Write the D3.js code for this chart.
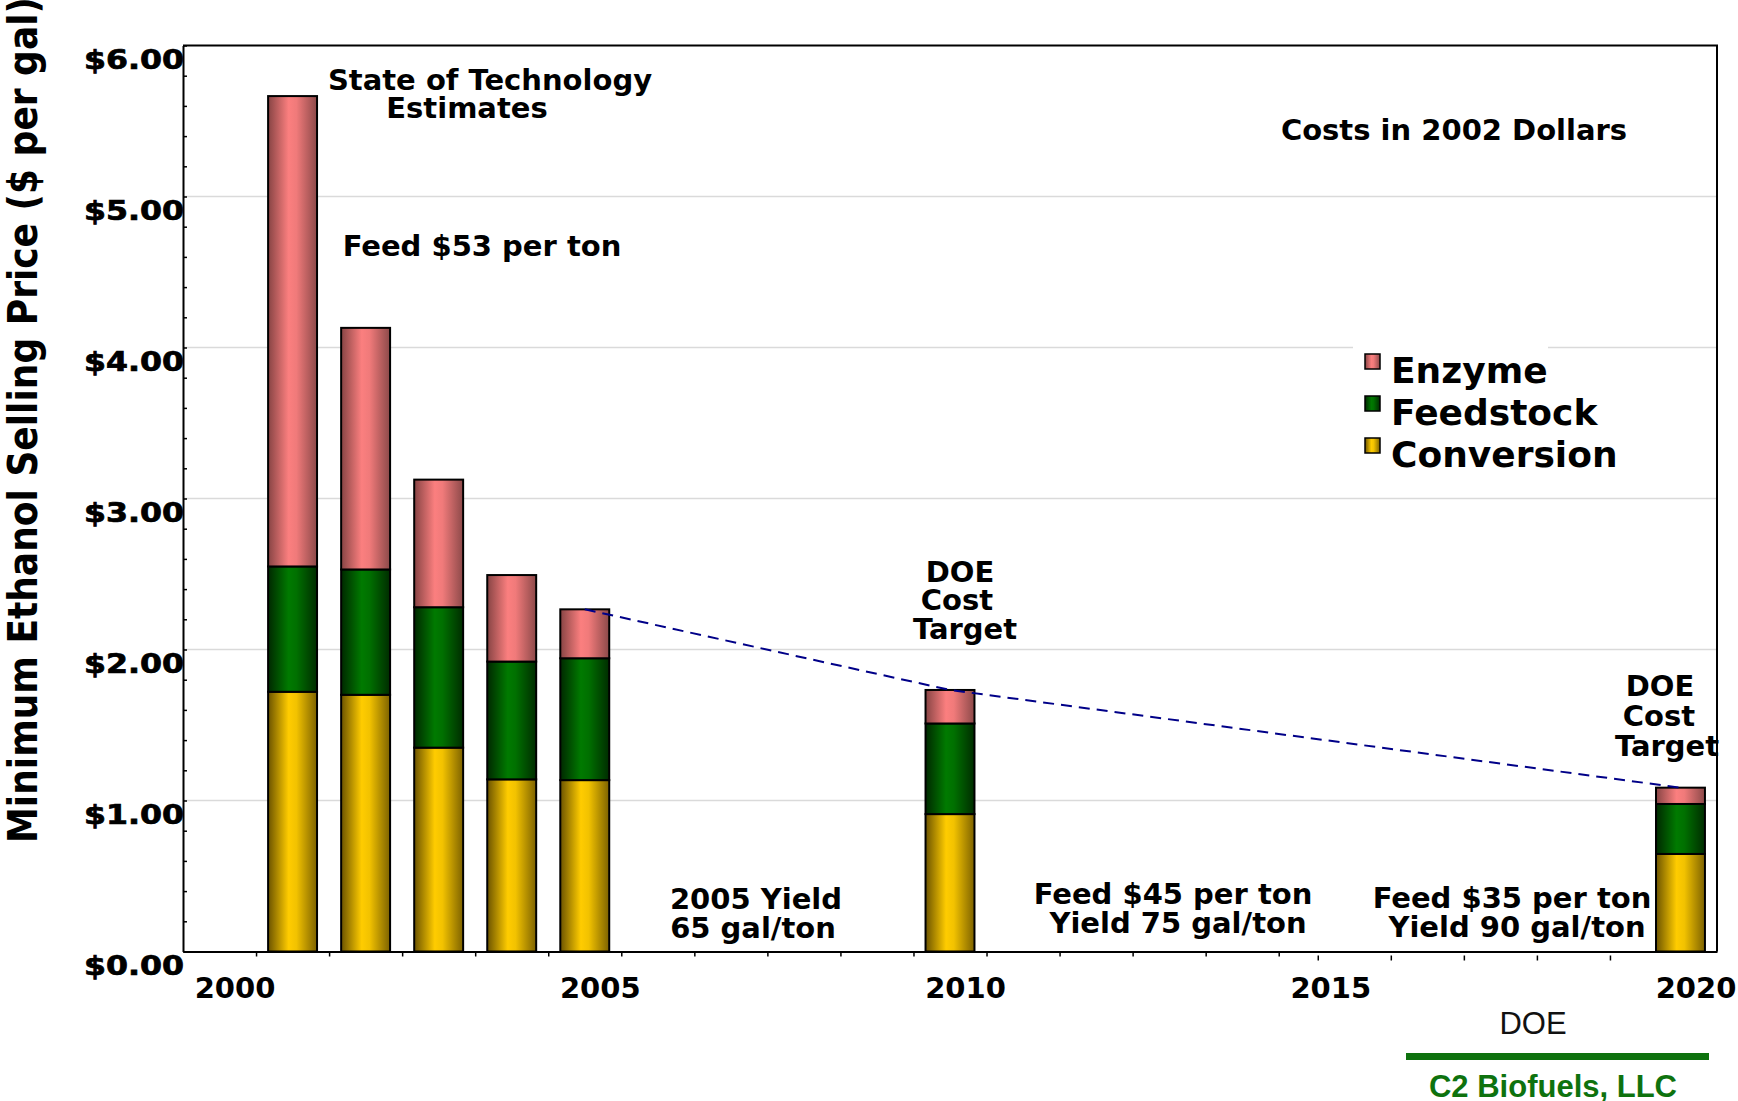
<!DOCTYPE html>
<html>
<head>
<meta charset="utf-8">
<script src="https://cdn.jsdelivr.net/npm/d3@7"></script>
<style>
  body { margin: 0; background: #fff; }
  svg text { font-family: "DejaVu Sans", sans-serif; font-weight: bold; fill: #000; }
</style>
</head>
<body>
<svg id="chart" width="1738" height="1101"></svg>
<script>
// bar years (bars sit half a year left of the year tick)
var years = [2001, 2002, 2003, 2004, 2005, 2010, 2020];
var conversion = [1.72, 1.70, 1.35, 1.14, 1.135, 0.91, 0.646];
var feedstock = [0.83, 0.83, 0.93, 0.78, 0.807, 0.60, 0.331];
var enzyme = [3.115, 1.60, 0.845, 0.573, 0.324, 0.222, 0.108];

var seriesNames = ["Conversion", "Feedstock", "Enzyme"];
var legendOrder = ["Enzyme", "Feedstock", "Conversion"];
var targetYears = [2005, 2010, 2020];

var yTickValues = [0, 1, 2, 3, 4, 5, 6];
var xLabelYears = [2000, 2005, 2010, 2015, 2020];

var svg = d3.select("#chart");
var plotLeft = 183, plotRight = 1717, plotTop = 45.5, plotBottom = 951.5;

var x = d3.scaleLinear().domain([1999, 2020]).range([plotLeft, plotRight]);
var y = d3.scaleLinear().domain([0, 6]).range([plotBottom, plotTop]);

// gradients for the bar look
var grads = {
  Conversion: ["#6b5300", "#ffcc00", "#f2c200", "#7d6200"],
  Feedstock: ["#002800", "#007a00", "#007000", "#002c00"],
  Enzyme: ["#874444", "#fb7f7f", "#f07a7a", "#8c4949"]
};
var defs = svg.append("defs");
Object.keys(grads).forEach(function (k) {
  var g = defs.append("linearGradient").attr("id", "g-" + k)
    .attr("x1", 0).attr("x2", 1).attr("y1", 0).attr("y2", 0);
  [0, 0.42, 0.58, 1].forEach(function (o, i) {
    g.append("stop").attr("offset", o).attr("stop-color", grads[k][i]);
  });
});

// gridlines
svg.append("g").selectAll("line")
  .data(yTickValues.slice(1, 6))
  .enter().append("line")
  .attr("x1", plotLeft).attr("x2", plotRight)
  .attr("y1", function (d) { return y(d); })
  .attr("y2", function (d) { return y(d); })
  .attr("stroke", "#dadada").attr("stroke-width", 1.5);

// stacked bars
var table = years.map(function (yr, i) {
  return { year: yr, Conversion: conversion[i], Feedstock: feedstock[i], Enzyme: enzyme[i] };
});
var stacked = d3.stack().keys(seriesNames)(table);
var barW = x(1999.67) - x(1999);

svg.append("g").selectAll("g")
  .data(stacked)
  .enter().append("g")
  .attr("fill", function (s) { return "url(#g-" + s.key + ")"; })
  .selectAll("rect")
  .data(function (s) { return s; })
  .enter().append("rect")
  .attr("x", function (d) { return x(d.data.year - 0.5) - barW / 2; })
  .attr("width", barW)
  .attr("y", function (d) { return y(d[1]); })
  .attr("height", function (d) { return y(d[0]) - y(d[1]); })
  .attr("stroke", "#000").attr("stroke-width", 2);

// dashed target line through bar tops
var targetPts = targetYears.map(function (yr) {
  var i = years.indexOf(yr);
  return [yr - 0.5, conversion[i] + feedstock[i] + enzyme[i]];
});
svg.append("path")
  .datum(targetPts)
  .attr("d", d3.line().x(function (d) { return x(d[0]); }).y(function (d) { return y(d[1]); }))
  .attr("fill", "none").attr("stroke", "#000088").attr("stroke-width", 2)
  .attr("stroke-dasharray", "11,7");

// axes
svg.append("g").attr("transform", "translate(" + plotLeft + ",0)")
  .call(d3.axisLeft(y).tickValues(d3.range(0, 6.01, 0.2)).tickSizeInner(-4).tickSizeOuter(0).tickFormat(""));
svg.append("g").attr("transform", "translate(0," + plotBottom + ")")
  .call(d3.axisBottom(x).tickValues(d3.range(2000, 2015)).tickSizeInner(5).tickSizeOuter(0).tickFormat(""));
// later ticks sit a little off in the original
svg.append("g").attr("transform", "translate(-34," + (plotBottom + 4) + ")")
  .call(d3.axisBottom(x).tickValues(d3.range(2015, 2020)).tickSizeInner(5).tickSizeOuter(0).tickFormat(""))
  .select(".domain").remove();
svg.selectAll(".domain").attr("stroke-width", 2);
svg.selectAll(".tick line").attr("stroke-width", 1.5);

// frame
svg.append("path")
  .attr("d", "M" + plotLeft + "," + plotTop + "H" + plotRight + "V" + plotBottom)
  .attr("fill", "none").attr("stroke", "#000").attr("stroke-width", 2);

// tick labels
svg.append("g").selectAll("text")
  .data(yTickValues)
  .enter().append("text")
  .attr("x", plotLeft + 1).attr("y", function (d) { return y(d) + 23.5; })
  .attr("text-anchor", "end")
  .attr("font-size", 26)
  .attr("stroke", "#000").attr("stroke-width", 0.7)
  .attr("textLength", 100).attr("lengthAdjust", "spacingAndGlyphs")
  .text(function (d) { return "$" + d3.format(".2f")(d); });

svg.append("g").selectAll("text")
  .data(xLabelYears)
  .enter().append("text")
  .attr("x", function (d) { return x(d) - 21; }).attr("y", 998)
  .attr("text-anchor", "middle")
  .attr("font-size", 29)
  .text(function (d) { return d; });

// y title
svg.append("text")
  .attr("transform", "translate(37,420) rotate(-90)")
  .attr("text-anchor", "middle")
  .attr("font-size", 41)
  .attr("textLength", 846).attr("lengthAdjust", "spacingAndGlyphs")
  .text("Minimum Ethanol Selling Price ($ per gal)");

// annotations
var notes = [
  [490, 90, "State of Technology"], [467, 118, "Estimates"],
  [482, 256, "Feed $53 per ton"], [1454, 140, "Costs in 2002 Dollars"],
  [960, 582, "DOE"], [957, 610, "Cost"], [965, 639, "Target"],
  [1660, 696, "DOE"], [1659, 726, "Cost"], [1667, 756, "Target"],
  [756, 909, "2005 Yield"], [753, 938, "65 gal/ton"],
  [1173, 904, "Feed $45 per ton"], [1178, 933, "Yield 75 gal/ton"],
  [1512, 908, "Feed $35 per ton"], [1517, 937, "Yield 90 gal/ton"]
];
svg.append("g").selectAll("text")
  .data(notes)
  .enter().append("text")
  .attr("x", function (d) { return d[0]; }).attr("y", function (d) { return d[1]; })
  .attr("text-anchor", "middle")
  .attr("font-size", 29)
  .text(function (d) { return d[2]; });

// legend
var legend = svg.append("g");
legend.append("rect")
  .attr("x", 1353).attr("y", 342).attr("width", 195).attr("height", 138)
  .attr("fill", "#fff");
var rows = legend.selectAll("g.row")
  .data(legendOrder)
  .enter().append("g")
  .attr("class", "row")
  .attr("transform", function (d, i) { return "translate(1365," + (354 + i * 42) + ")"; });
rows.append("rect")
  .attr("width", 15).attr("height", 15)
  .attr("fill", function (d) { return "url(#g-" + d + ")"; })
  .attr("stroke", "#000").attr("stroke-width", 1.5);
rows.append("text")
  .attr("x", 26).attr("y", 29)
  .attr("font-size", 36)
  .text(function (d) { return d; });

// footer
svg.append("text")
  .attr("x", 1533).attr("y", 1034)
  .attr("text-anchor", "middle")
  .style("font-family", "'Liberation Sans', Arial, sans-serif")
  .style("font-weight", "normal")
  .style("fill", "#111")
  .attr("font-size", 31)
  .text("DOE");
svg.append("line")
  .attr("x1", 1406).attr("x2", 1709).attr("y1", 1056.5).attr("y2", 1056.5)
  .attr("stroke", "#0e720e").attr("stroke-width", 7);
svg.append("text")
  .attr("x", 1553).attr("y", 1097)
  .attr("text-anchor", "middle")
  .style("font-family", "'Liberation Sans', Arial, sans-serif")
  .style("fill", "#0e720e")
  .attr("font-size", 31)
  .text("C2 Biofuels, LLC");
</script>
</body>
</html>
